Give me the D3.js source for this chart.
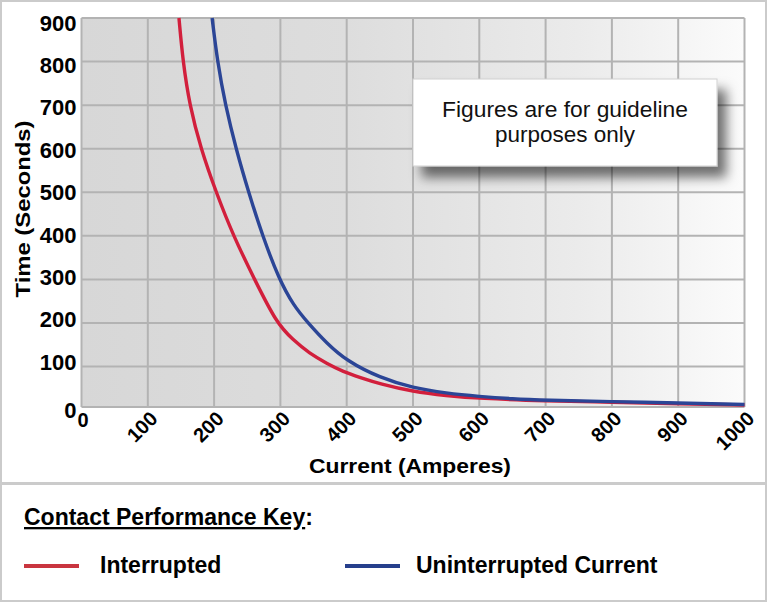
<!DOCTYPE html>
<html>
<head>
<meta charset="utf-8">
<script src="https://cdn.jsdelivr.net/npm/d3@7"></script>
<style>
  body { margin: 0; background: #fff; }
  text { font-family: "Liberation Sans", Arial, sans-serif; }
</style>
</head>
<body>
<div id="my_dataviz"></div>
<script>
// data
var xTicks = [0, 100, 200, 300, 400, 500, 600, 700, 800, 900, 1000];
var yTicks = [0, 100, 200, 300, 400, 500, 600, 700, 800, 900];

var interruptedCurrent = [147, 153, 163, 180, 203, 229, 261, 294, 319, 344, 370, 395, 420, 450, 500, 550, 600, 700, 800, 900, 1000];
var interruptedTime    = [900, 800, 700, 600, 500, 400, 300, 200, 161, 130, 107, 87, 73, 57, 38, 28, 21, 15, 12, 8, 5];

var uninterruptedCurrent = [197, 205, 217, 233, 252, 273, 298, 320, 340, 370, 400, 450, 500, 550, 600, 650, 700, 800, 900, 1000];
var uninterruptedTime    = [900, 800, 700, 600, 500, 400, 300, 240, 203, 153, 113, 72, 47, 34, 26, 20, 17, 13, 10, 6];

var seriesNames = ["Interrupted", "Uninterrupted Current"];
var seriesColors = ["#d21f3c", "#2b4596"];
var legendColors = ["#c9353f", "#263f8c"];

// set the dimensions and margins of the graph
var W = 768, H = 603;
var margin = {top: 18, right: 23.5, bottom: 196, left: 81.5},
    width = W - margin.left - margin.right,
    height = H - margin.top - margin.bottom;

var svg = d3.select("#my_dataviz")
  .append("svg")
    .attr("width", W)
    .attr("height", H);

var defs = svg.append("defs");
var grad = defs.append("linearGradient")
    .attr("id", "bg")
    .attr("x1", "0").attr("x2", "1").attr("y1", "0").attr("y2", "0");
grad.append("stop").attr("offset", "0%").attr("stop-color", "#d7d7d7");
grad.append("stop").attr("offset", "40%").attr("stop-color", "#dddddd");
grad.append("stop").attr("offset", "75%").attr("stop-color", "#ebebeb");
grad.append("stop").attr("offset", "100%").attr("stop-color", "#fbfbfb");

var shadow = defs.append("filter")
    .attr("id", "shadow")
    .attr("x", "-20%").attr("y", "-30%").attr("width", "150%").attr("height", "180%");
shadow.append("feDropShadow")
    .attr("dx", 9).attr("dy", 11)
    .attr("stdDeviation", 6)
    .attr("flood-color", "#000")
    .attr("flood-opacity", 0.55);

// outer panels
svg.append("rect")
    .attr("x", 1).attr("y", 1).attr("width", W - 3).attr("height", 482)
    .attr("fill", "#fff").attr("stroke", "#cbcbcb").attr("stroke-width", 2);
svg.append("rect")
    .attr("x", 1).attr("y", 484).attr("width", W - 3).attr("height", 117)
    .attr("fill", "#fff").attr("stroke", "#cbcbcb").attr("stroke-width", 2);

var g = svg.append("g")
    .attr("transform", "translate(" + margin.left + "," + margin.top + ")");

// scales (the first band of the original y axis is a bit shorter)
var x = d3.scaleLinear()
  .domain([0, 1000])
  .range([0, width]);

var y = d3.scaleLinear()
  .domain([0, 100, 900])
  .range([height, height - 40.5, 0]);

// tick labels sit on a slightly different spacing than the grid
var yLabel = d3.scaleLinear()
  .domain([100, 900])
  .range([y(100) - 4.5, y(900) + 5]);

g.append("rect")
    .attr("width", width).attr("height", height)
    .attr("fill", "url(#bg)");

// grid
g.append("g")
  .selectAll("line")
  .data(xTicks)
  .enter()
  .append("line")
    .attr("x1", function(d) { return x(d); })
    .attr("x2", function(d) { return x(d); })
    .attr("y1", 0).attr("y2", height)
    .attr("stroke", "#b3b3b3").attr("stroke-width", 2);

g.append("g")
  .selectAll("line")
  .data(yTicks)
  .enter()
  .append("line")
    .attr("y1", function(d) { return y(d); })
    .attr("y2", function(d) { return y(d); })
    .attr("x1", 0).attr("x2", width)
    .attr("stroke", "#b3b3b3").attr("stroke-width", 2);

// y tick labels
g.append("g")
  .selectAll("text")
  .data(yTicks)
  .enter()
  .append("text")
    .attr("x", -5)
    .attr("y", function(d) { return d === 0 ? y(0) + 3 : yLabel(d); })
    .attr("dy", ".35em")
    .attr("text-anchor", "end")
    .style("font-size", "22px")
    .style("font-weight", "bold")
    .text(function(d) { return d; });

// x tick labels, rotated
g.append("g")
  .selectAll("text")
  .data(xTicks)
  .enter()
  .append("text")
    .attr("transform", function(d) {
      return d === 0
        ? "translate(" + (x(d) - 4) + "," + (height + 20) + ")"
        : "translate(" + (x(d) + 11) + "," + (height + 13) + ") rotate(-45)";
    })
    .attr("text-anchor", function(d) { return d === 0 ? "start" : "end"; })
    .style("font-size", "20px")
    .style("font-weight", "bold")
    .text(function(d) { return d; });

// axis titles
svg.append("text")
    .attr("x", 410)
    .attr("y", 473)
    .attr("text-anchor", "middle")
    .attr("textLength", 202)
    .attr("lengthAdjust", "spacingAndGlyphs")
    .style("font-size", "21px")
    .style("font-weight", "bold")
    .text("Current (Amperes)");

svg.append("text")
    .attr("transform", "translate(30,209) rotate(-90)")
    .attr("text-anchor", "middle")
    .attr("textLength", 177)
    .attr("lengthAdjust", "spacingAndGlyphs")
    .style("font-size", "21px")
    .style("font-weight", "bold")
    .text("Time (Seconds)");

// curves
var line = d3.line()
    .x(function(d) { return x(d[0]); })
    .y(function(d) { return y(d[1]); })
    .curve(d3.curveBasis);

var series = [
  d3.zip(interruptedCurrent, interruptedTime),
  d3.zip(uninterruptedCurrent, uninterruptedTime)
];

g.selectAll("path.curve")
  .data(series)
  .enter()
  .append("path")
    .attr("class", "curve")
    .attr("d", line)
    .attr("fill", "none")
    .attr("stroke", function(d, i) { return seriesColors[i]; })
    .attr("stroke-width", 3.4);

// note box
svg.append("rect")
    .attr("x", 413).attr("y", 79)
    .attr("width", 304).attr("height", 87)
    .attr("fill", "#fff")
    .attr("stroke", "#d0d0d0").attr("stroke-width", 1)
    .attr("filter", "url(#shadow)");

svg.append("text")
    .attr("x", 565).attr("y", 117)
    .attr("text-anchor", "middle")
    .attr("textLength", 246)
    .attr("lengthAdjust", "spacingAndGlyphs")
    .style("font-size", "22px")
    .attr("fill", "#111")
    .text("Figures are for guideline");
svg.append("text")
    .attr("x", 565).attr("y", 142)
    .attr("text-anchor", "middle")
    .attr("textLength", 140)
    .attr("lengthAdjust", "spacingAndGlyphs")
    .style("font-size", "22px")
    .attr("fill", "#111")
    .text("purposes only");

// legend
var key = svg.append("text")
    .attr("x", 24).attr("y", 525)
    .style("font-size", "23px")
    .style("font-weight", "bold");
key.append("tspan")
    .attr("text-decoration", "underline")
    .text("Contact Performance Key");
key.append("tspan").text(":");

var legendX = [24, 345];
var leg = svg.append("g")
  .selectAll("g")
  .data(seriesNames)
  .enter()
  .append("g")
    .attr("transform", function(d, i) { return "translate(" + legendX[i] + ",566)"; });
leg.append("line")
    .attr("x1", 0).attr("x2", 55)
    .attr("stroke", function(d, i) { return legendColors[i]; })
    .attr("stroke-width", 4);
leg.append("text")
    .attr("x", function(d, i) { return i === 0 ? 76 : 71; })
    .attr("y", 7)
    .style("font-size", "23px")
    .style("font-weight", "bold")
    .text(function(d) { return d; });
</script>
</body>
</html>
